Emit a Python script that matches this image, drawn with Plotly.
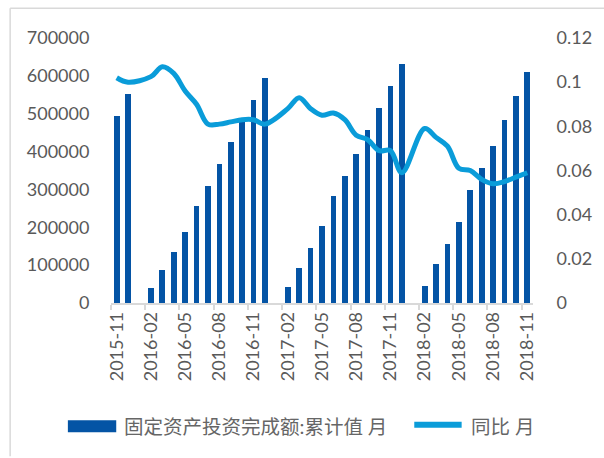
import plotly.graph_objects as go

# Monthly categories, Nov 2015 - Nov 2018
months = [
    "2015-11", "2015-12",
    "2016-01", "2016-02", "2016-03", "2016-04", "2016-05", "2016-06",
    "2016-07", "2016-08", "2016-09", "2016-10", "2016-11", "2016-12",
    "2017-01", "2017-02", "2017-03", "2017-04", "2017-05", "2017-06",
    "2017-07", "2017-08", "2017-09", "2017-10", "2017-11", "2017-12",
    "2018-01", "2018-02", "2018-03", "2018-04", "2018-05", "2018-06",
    "2018-07", "2018-08", "2018-09", "2018-10", "2018-11",
]

# Fixed-asset investment, cumulative value (January is reported together with February)
fai_cumulative = [
    494000, 552000,
    None, 40500, 88000, 135600, 188500, 257200,
    310000, 368300, 426400, 480000, 537000, 595600,
    None, 41000, 92500, 145700, 203500, 282800,
    335700, 393900, 457300, 515500, 573600, 632600,
    None, 44900, 103100, 156000, 214100, 298700,
    356900, 415000, 484600, 547200, 610600,
]

# Year-on-year growth
fai_yoy = [
    0.102, 0.100,
    None, 0.1025, 0.107, 0.104, 0.096, 0.090,
    0.081, 0.081, 0.082, 0.083, 0.083, 0.081,
    None, 0.088, 0.093, 0.088, 0.085, 0.086,
    0.083, 0.076, 0.074, 0.069, 0.069, 0.059,
    None, 0.079, 0.075, 0.071, 0.061, 0.060,
    0.056, 0.054, 0.055, 0.057, 0.059,
]

bar_name = "固定资产投资完成额:累计值 月"
line_name = "同比 月"

BAR_COLOR = "#0454A5"
LINE_COLOR = "#0A9CD9"
TEXT_COLOR = "#595959"
LEGEND_TEXT = "#666666"
AXIS_COLOR = "#D9D9D9"
FONT = "Lato, Noto Sans CJK SC, sans-serif"

W, H = 604, 458
L, R, T, B = 110.7, 538.3, 38.3, 303.0


def px_x(px):
    return (px - L) / (R - L)


def px_y(py):
    return (B - py) / (B - T)


fig = go.Figure()
fig.add_trace(go.Bar(
    x=months, y=fai_cumulative, name=bar_name,
    marker=dict(color=BAR_COLOR, line=dict(width=0)),
    width=0.5, yaxis="y",
))
fig.add_trace(go.Scatter(
    x=months, y=fai_yoy, name=line_name, mode="lines",
    line=dict(color=LINE_COLOR, width=5, shape="spline", smoothing=1),
    connectgaps=True, yaxis="y2",
))

fig.update_layout(
    width=W, height=H,
    margin=dict(l=L, r=W - R, t=T, b=H - B, pad=0),
    paper_bgcolor="white", plot_bgcolor="white",
    showlegend=False,
    font=dict(family=FONT, size=18, color=TEXT_COLOR),
    xaxis=dict(
        type="category", range=[-0.5, len(months) - 0.5],
        tickmode="linear", tick0=0, dtick=3,
        tickson="boundaries", ticks="outside", ticklen=5,
        tickcolor=AXIS_COLOR, tickwidth=1.5,
        tickangle=-90,
        showline=True, linecolor=AXIS_COLOR, linewidth=1.5,
        showgrid=False, zeroline=False,
        tickfont=dict(size=18, color=TEXT_COLOR),
    ),
    yaxis=dict(
        range=[0, 700000], tickmode="linear", tick0=0, dtick=100000,
        showgrid=False, zeroline=False, showline=False,
        ticks="outside", ticklen=17, tickcolor="rgba(0,0,0,0)",
        tickformat="d",
        tickfont=dict(size=18, color=TEXT_COLOR),
    ),
    yaxis2=dict(
        range=[0, 0.12], tickmode="linear", tick0=0, dtick=0.02,
        overlaying="y", side="right",
        showgrid=False, zeroline=False, showline=False,
        ticks="outside", ticklen=19, tickcolor="rgba(0,0,0,0)",
        tickfont=dict(size=18, color=TEXT_COLOR),
    ),
    bargap=0,
)

# Outer frame (left and top edges)
fig.add_shape(type="line", xref="paper", yref="paper",
              x0=px_x(8.5), x1=px_x(620), y0=px_y(8.5), y1=px_y(8.5),
              line=dict(color=AXIS_COLOR, width=1.5))
fig.add_shape(type="line", xref="paper", yref="paper",
              x0=px_x(8.5), x1=px_x(8.5), y0=px_y(8.5), y1=px_y(456),
              line=dict(color=AXIS_COLOR, width=1.5))

# Legend
fig.add_shape(type="rect", xref="paper", yref="paper",
              x0=px_x(67), x1=px_x(116), y0=px_y(420), y1=px_y(432),
              fillcolor=BAR_COLOR, line=dict(width=0))
fig.add_annotation(xref="paper", yref="paper", x=px_x(122), y=px_y(426),
                   text=bar_name, showarrow=False, xanchor="left", yanchor="middle",
                   font=dict(family=FONT, size=19.5, color=LEGEND_TEXT))
fig.add_shape(type="line", xref="paper", yref="paper",
              x0=px_x(418), x1=px_x(466), y0=px_y(424.5), y1=px_y(424.5),
              line=dict(color=LINE_COLOR, width=6))
fig.add_annotation(xref="paper", yref="paper", x=px_x(473), y=px_y(426),
                   text=line_name, showarrow=False, xanchor="left", yanchor="middle",
                   font=dict(family=FONT, size=19.5, color=LEGEND_TEXT))

fig.write_html("out.html")
